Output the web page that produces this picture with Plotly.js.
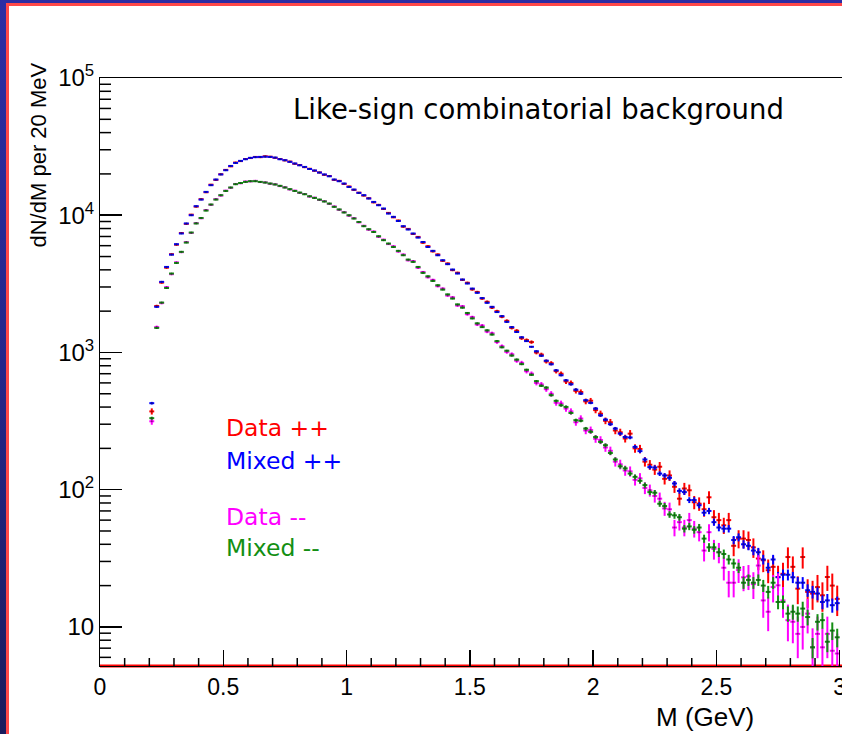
<!DOCTYPE html>
<html>
<head>
<meta charset="utf-8">
<script src="https://cdn.plot.ly/plotly-3.0.1.min.js"></script>
<style>
  html, body { margin:0; padding:0; width:842px; height:734px; overflow:hidden;
    background: linear-gradient(180deg, #2d2da3 0%, #25258a 50%, #1b1b5c 100%); }
  #redframe { position:absolute; left:6px; top:3px; width:1000px; height:1000px; background:#ff4848; }
  #plot { position:absolute; left:9px; top:6px; width:910px; height:740px; background:#fff; }
</style>
</head>
<body>
<div id="redframe"></div>
<div id="plot"></div>
<script>
// Bin centres (GeV), 20 MeV bins
const mass = [
  0.21,0.23,0.25,0.27,0.29,0.31,0.33,0.35,0.37,0.39,
  0.41,0.43,0.45,0.47,0.49,0.51,0.53,0.55,0.57,0.59,
  0.61,0.63,0.65,0.67,0.69,0.71,0.73,0.75,0.77,0.79,
  0.81,0.83,0.85,0.87,0.89,0.91,0.93,0.95,0.97,0.99,
  1.01,1.03,1.05,1.07,1.09,1.11,1.13,1.15,1.17,1.19,
  1.21,1.23,1.25,1.27,1.29,1.31,1.33,1.35,1.37,1.39,
  1.41,1.43,1.45,1.47,1.49,1.51,1.53,1.55,1.57,1.59,
  1.61,1.63,1.65,1.67,1.69,1.71,1.73,1.75,1.77,1.79,
  1.81,1.83,1.85,1.87,1.89,1.91,1.93,1.95,1.97,1.99,
  2.01,2.03,2.05,2.07,2.09,2.11,2.13,2.15,2.17,2.19,
  2.21,2.23,2.25,2.27,2.29,2.31,2.33,2.35,2.37,2.39,
  2.41,2.43,2.45,2.47,2.49,2.51,2.53,2.55,2.57,2.59,
  2.61,2.63,2.65,2.67,2.69,2.71,2.73,2.75,2.77,2.79,
  2.81,2.83,2.85,2.87,2.89,2.91,2.93,2.95,2.97,2.99
];

// Data ++ (red)
const dataPP = [
  372,2180,3230,4150,5200,6100,7420,8650,10100,11550,
  13100,14700,16700,18100,19900,21400,22700,24200,24800,25700,
  26100,26600,26500,26900,26700,26200,25700,25100,24600,23700,
  23200,22400,21800,21100,20500,19700,19300,18100,17800,16900,
  16200,15300,14600,13900,13300,12400,11900,11100,10400,9650,
  9150,8250,7950,7300,6950,6300,5950,5450,5180,4650,
  4450,3980,3810,3380,3220,2880,2760,2470,2340,2120,
  2000,1820,1700,1510,1440,1270,1230,1190,1000,965,
  860,835,730,700,615,600,525,515,440,445,
  380,358,318,310,270,262,236,256,200,198,
  160,152,140,147,120,127,105,86,102,99,
  81,79,72,88,63,60,55,60,39,44,
  44,43,38,31.5,30.6,25.9,27.4,23.1,24.4,32.3,
  27.4,19.0,32.3,18.0,17.5,19.5,17.0,23.1,20,16
];

// Mixed ++ (blue)
const mixedPP = [
  427,2150,3270,4200,5160,6150,7360,8710,10000,11640,
  13000,14790,16560,18200,19820,21280,22860,24040,24890,25590,
  26180,26490,26610,26700,26600,26300,25590,25180,24490,23820,
  23120,22490,21730,21180,20460,19820,19230,18200,17700,17020,
  16070,15380,14550,14000,13240,12500,11830,11190,10280,9730,
  9080,8320,7870,7360,6870,6380,5870,5500,5110,4700,
  4400,4020,3760,3400,3180,2920,2720,2490,2300,2150,
  1970,1840,1670,1530,1410,1290,1210,1100,1020,946,
  871,820,741,682,627,586,536,501,449,429,
  390,348,324,300,279,256,242,240,205,191,
  166,146,145,131,127,122,111,98,96,84,
  84,77,68,70,58,53,52,52,43,45,
  40,39,36,35,31,27,31,23,24,24,
  23,21,21,18.5,18,17.5,15.2,15.6,14.4,14.9
];

// Data -- (magenta)
const dataMM = [
  315,1530,2290,2990,3720,4530,5380,6370,7430,8760,
  9500,10900,11900,13100,13900,15100,15850,16900,17100,17600,
  17650,17800,17450,17350,16950,16800,16300,15980,15420,15100,
  14550,14280,13680,13430,12930,12650,12100,11580,10960,10530,
  9930,9520,8870,8380,7850,7610,6960,6640,6160,5930,
  5440,5170,4690,4630,4140,3860,3530,3380,3040,2920,
  2600,2520,2200,2170,1900,1810,1600,1570,1420,1380,
  1190,1110,1010,970,870,840,730,700,600,585,
  540,500,430,425,390,372,310,330,270,272,
  235,230,203,192,160,153,138,136,118,121,
  103,99,90,86,73,72,53,58,53,60,
  52,49,36,49,37,35,27,21,21,26,
  23,23.4,20.5,28,15.6,12.9,19.5,20.1,15.6,11.2,
  10.9,8.9,10,12.5,7.1,8.9,7.1,8.9,6.7,6.4
];

// Mixed -- (green)
const mixedMM = [
  332,1510,2310,2950,3760,4490,5410,6320,7480,8710,
  9550,10810,11970,13000,14000,15030,15920,16830,17180,17500,
  17700,17700,17500,17300,17020,16750,16370,15920,15490,15030,
  14620,14220,13740,13370,13000,12590,12160,11510,11020,10470,
  10000,9460,8930,8320,7910,7550,7030,6580,6220,5870,
  5500,5110,4750,4570,4200,3800,3590,3320,3090,2870,
  2650,2470,2240,2120,1940,1770,1630,1530,1450,1350,
  1210,1090,1030,949,887,822,748,687,618,571,
  555,488,444,412,401,362,321,318,279,264,
  242,223,211,185,166,148,143,131,124,116,
  108,96,95,79,76,66,65,63,52,54,
  51,53,44,38,38,35,34,31,29,27,
  21,22,21,22,20,18,21,15.2,15.2,12.5,
  12.9,12.5,13.6,11.8,7.1,10.9,11.2,7.8,9.4,8.4
];

const xTickVals = [0, 0.5, 1, 1.5, 2, 2.5, 3];
const yTickVals = [10, 100, 1000, 10000, 100000];
const yTickText = ['10', '10<sup>2</sup>', '10<sup>3</sup>', '10<sup>4</sup>', '10<sup>5</sup>'];
const legendLabels = ['Data ++', 'Mixed ++', 'Data --', 'Mixed --'];
const colors = { dataPP: '#ff0000', mixedPP: '#0000ff', dataMM: '#ff00ff', mixedMM: '#138f13' };

// mixed-event samples are larger, so their statistical errors are a fraction of sqrt(N)
const MIXED_ERR_FRACTION = 0.45;
function mixedErr(arr) { return arr.map(v => MIXED_ERR_FRACTION * Math.sqrt(v)); }

function hist(y, color, errY) {
  return {
    type: 'scatter', mode: 'markers', x: mass, y: y,
    marker: { size: 2, color: '#1a1a1a', opacity: 0.5 },
    error_x: { type: 'constant', value: 0.01, width: 0, thickness: 2, color: color },
    error_y: errY ? { type: 'data', array: errY, width: 0, thickness: 2, color: color }
                  : { type: 'sqrt', width: 0, thickness: 2, color: color },
    hoverinfo: 'skip', showlegend: false
  };
}
const traces = [
  hist(dataPP, colors.dataPP, null),
  hist(mixedPP, colors.mixedPP, mixedErr(mixedPP)),
  hist(dataMM, colors.dataMM, null),
  hist(mixedMM, colors.mixedMM, mixedErr(mixedMM))
];

// Plot frame: page x 100..889, y 78..666 ; plot div at (9,6)
const L = 91, T = 72, W = 789, H = 588;
const px = x => (x - 100) / W;
const py = y => (666 - y) / H;
const font = '"Liberation Sans", Arial, Helvetica, sans-serif';
const wideFont = '"DejaVu Sans", Verdana, sans-serif';
const X_MAX = 3.2, Y_MIN = 5.19, Y_MAX = 1e5;
const LOG_MIN = Math.log10(Y_MIN), LOG_MAX = Math.log10(Y_MAX);

// minor tick marks (ROOT style, inside the frame), placed as fractions of the frame
const tickShapes = [];
const tickLine = { color: '#000', width: 1.5 };
for (let k = 0; k <= Math.round(X_MAX * 10); k++) {
  if (k % 5 === 0) continue;
  const f = (k / 10) / X_MAX;
  tickShapes.push({ type: 'line', xref: 'paper', yref: 'paper', x0: f, x1: f,
    y0: 0, y1: 8 / H, line: tickLine, layer: 'above' });
}
for (let e = 0; e <= 4; e++) {
  for (let m = 2; m <= 9; m++) {
    const v = m * Math.pow(10, e);
    if (v < Y_MIN || v > Y_MAX) continue;
    const f = (Math.log10(v) - LOG_MIN) / (LOG_MAX - LOG_MIN);
    tickShapes.push({ type: 'line', xref: 'paper', yref: 'paper', x0: 0, x1: 11 / W,
      y0: f, y1: f, line: tickLine, layer: 'above' });
  }
}

const layout = {
  width: 910, height: 740,
  margin: { l: L, t: T, r: 910 - L - W, b: 740 - T - H },
  paper_bgcolor: '#ffffff', plot_bgcolor: '#ffffff',
  showlegend: false,
  font: { family: font, color: '#000' },
  xaxis: {
    range: [0, X_MAX], showline: true, linecolor: '#000', linewidth: 1, mirror: true,
    showgrid: false, zeroline: false, ticks: 'inside', ticklen: 16, tickcolor: '#000', tickwidth: 1.5,
    tickmode: 'array', tickvals: xTickVals,
    tickfont: { family: font, size: 23, color: '#000' }
  },
  yaxis: {
    type: 'log', range: [LOG_MIN, LOG_MAX], showline: true, linecolor: '#000', linewidth: 1,
    showgrid: false, zeroline: false, ticks: 'inside', ticklen: 22, tickcolor: '#000', tickwidth: 1.5,
    tickmode: 'array', tickvals: yTickVals, ticktext: yTickText,
    tickfont: { family: font, size: 24, color: '#000' }
  },
  shapes: [
    { type: 'line', xref: 'paper', yref: 'paper', x0: 0, x1: 1, y0: 0, y1: 0,
      line: { color: '#ff0000', width: 3 }, layer: 'below' }
  ].concat(tickShapes),
  annotations: [
    { text: 'Like-sign combinatorial background', xref: 'paper', yref: 'paper',
      x: px(291), y: py(109), xanchor: 'left', yanchor: 'middle', showarrow: false,
      font: { family: wideFont, size: 27.5, color: '#000' } },
    { text: legendLabels[0], xref: 'paper', yref: 'paper', x: px(224), y: py(428),
      xanchor: 'left', yanchor: 'middle', showarrow: false, font: { family: wideFont, size: 23.5, color: colors.dataPP } },
    { text: legendLabels[1], xref: 'paper', yref: 'paper', x: px(224), y: py(461),
      xanchor: 'left', yanchor: 'middle', showarrow: false, font: { family: wideFont, size: 23.5, color: colors.mixedPP } },
    { text: legendLabels[2], xref: 'paper', yref: 'paper', x: px(224), y: py(517),
      xanchor: 'left', yanchor: 'middle', showarrow: false, font: { family: wideFont, size: 23.5, color: colors.dataMM } },
    { text: legendLabels[3], xref: 'paper', yref: 'paper', x: px(224), y: py(548),
      xanchor: 'left', yanchor: 'middle', showarrow: false, font: { family: wideFont, size: 23.5, color: colors.mixedMM } },
    { text: 'dN/dM per 20 MeV', xref: 'paper', yref: 'paper', x: px(38), y: py(61),
      xanchor: 'center', yanchor: 'top', textangle: -90, showarrow: false,
      font: { family: font, size: 22, color: '#000' } },
    { text: 'M (GeV)', xref: 'paper', yref: 'paper', x: px(756), y: py(717),
      xanchor: 'right', yanchor: 'middle', showarrow: false,
      font: { family: font, size: 26, color: '#000' } }
  ]
};

Plotly.newPlot('plot', traces, layout, { staticPlot: true, displayModeBar: false });
</script>
</body>
</html>
